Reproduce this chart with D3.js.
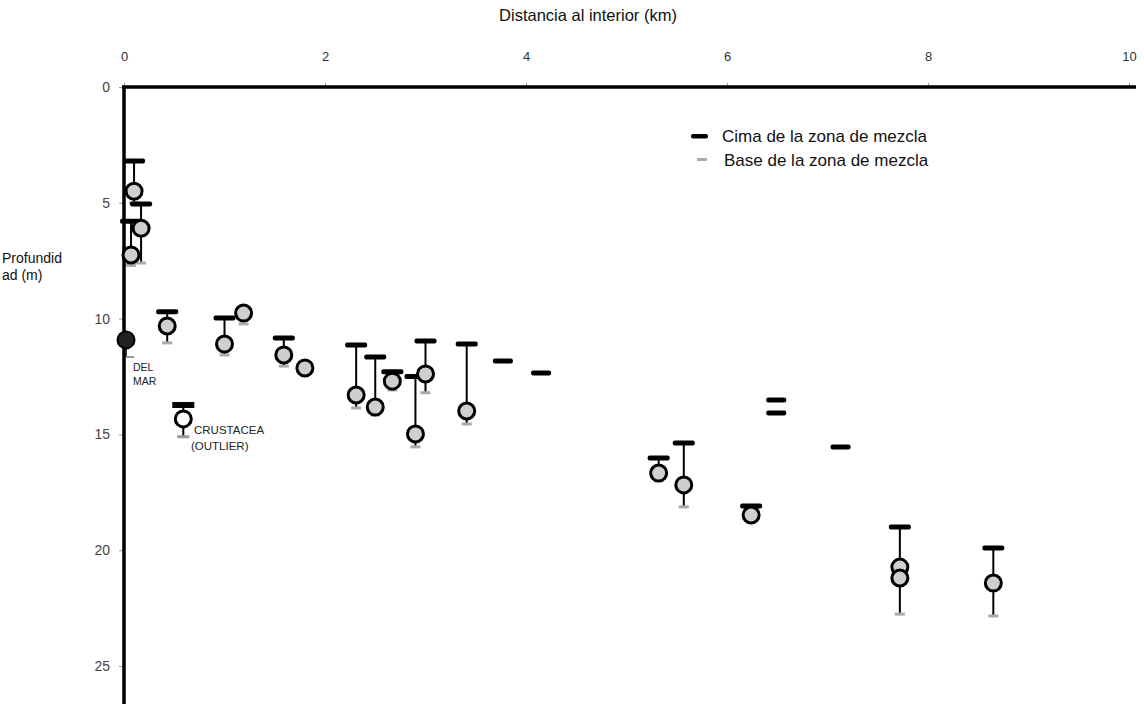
<!DOCTYPE html>
<html><head><meta charset="utf-8">
<script src="https://cdn.jsdelivr.net/npm/d3@7"></script>
<style>body{margin:0;background:#fff}svg{display:block}text{font-family:"Liberation Sans",Arial,sans-serif}</style>
</head><body><svg id="c" width="1144" height="704"></svg>
<script>
// Stations: distance inland (km), top of mixing zone (m), base of mixing zone (m), observed depth (m)
const stationKm   = [0.10, 0.17, 0.07, 0.43, 1.00, 1.19, 1.59, 1.80, 2.31, 2.50, 2.67, 2.90, 3.00, 3.41, 5.32, 5.57, 6.24, 7.72, 7.72, 8.65];
const topDepth    = [3.2,  5.05, 5.8,  9.7,  9.97, null, 10.84, null, 11.14, 11.66, 12.3, 12.5, 10.97, 11.1, 16.02, 15.37, 18.09, 19.0, null, 19.9];
const baseDepth   = [5.0,  7.6,  7.7,  11.05, 11.57, 10.23, 12.05, null, 13.86, 14.16, 13.08, 15.54, 13.2, 14.55, 17.0, 18.13, 18.7, 22.76, null, 22.84];
const obsDepth    = [4.5,  6.1,  7.25, 10.32, 11.1, 9.76, 11.57, 12.13, 13.3, 13.82, 12.7, 14.98, 12.39, 13.99, 16.67, 17.18, 18.48, 20.73, 21.2, 21.42];
// Isolated top-of-mixing-zone marks (no observation)
const topOnlyKm    = [3.77, 4.15, 6.49, 6.49, 7.13];
const topOnlyDepth = [11.83, 12.35, 13.51, 14.08, 15.54];
// Special points
const delMar    = {km: 0.02, depth: 10.92, base: 11.66};
const crustacea = {km: 0.59, top: 13.73, depth: 14.33, base: 15.1};
const xTicks = [0, 2, 4, 6, 8, 10];
const yTicks = [0, 5, 10, 15, 20, 25];

const svg = d3.select("#c");
const x = d3.scaleLinear().domain([0, 10]).range([124, 1129]);
const y = d3.scaleLinear().domain([0, 25]).range([87, 666]);

// axes
const xa = svg.append("g").attr("transform", `translate(0,${y(0)})`)
  .call(d3.axisTop(x).tickValues(xTicks).tickSize(4).tickPadding(22));
xa.select(".domain").remove();
xa.selectAll(".tick line").attr("stroke", "#999");
xa.selectAll(".tick text").attr("font-size", 13).attr("fill", "#333");
svg.append("line").attr("x1", x(0) - 2).attr("x2", 1136).attr("y1", y(0)).attr("y2", y(0))
  .attr("stroke", "#000").attr("stroke-width", 3.5);

const ya = svg.append("g").attr("transform", `translate(${x(0)},0)`)
  .call(d3.axisLeft(y).tickValues(yTicks).tickSize(5).tickPadding(9));
ya.select(".domain").remove();
ya.selectAll(".tick line").attr("stroke", "#999");
ya.selectAll(".tick text").attr("font-size", 14).attr("fill", "#444");
svg.append("line").attr("x1", x(0)).attr("x2", x(0)).attr("y1", y(0) - 1).attr("y2", 704)
  .attr("stroke", "#000").attr("stroke-width", 3.5);

svg.append("text").attr("x", 588).attr("y", 21).attr("text-anchor", "middle")
  .attr("font-size", 16.5).attr("fill", "#111").text("Distancia al interior (km)");
svg.append("text").attr("x", 2).attr("y", 263).attr("font-size", 14).attr("fill", "#111").text("Profundid");
svg.append("text").attr("x", 2).attr("y", 280).attr("font-size", 14).attr("fill", "#111").text("ad (m)");

// data
const st = stationKm.map((k, i) => ({k, t: topDepth[i], b: baseDepth[i], o: obsDepth[i]}));
const g = svg.append("g");
// vertical connectors
st.filter(d => d.t != null && d.b != null).forEach(d => {
  g.append("line").attr("x1", x(d.k)).attr("x2", x(d.k)).attr("y1", y(d.t)).attr("y2", y(d.b))
    .attr("stroke", "#000").attr("stroke-width", 2);
});
// base marks
st.filter(d => d.b != null).forEach(d => {
  g.append("rect").attr("x", x(d.k) - 5).attr("y", y(d.b) - 1.5).attr("width", 10).attr("height", 3)
    .attr("fill", "#aaa");
});
// top marks
st.filter(d => d.t != null).forEach(d => {
  g.append("rect").attr("x", x(d.k) - 11).attr("y", y(d.t) - 2.5).attr("width", 22).attr("height", 5)
    .attr("rx", 2).attr("fill", "#000");
});
topOnlyKm.forEach((k, i) => {
  g.append("rect").attr("x", x(k) - 10).attr("y", y(topOnlyDepth[i]) - 2.5).attr("width", 20).attr("height", 5)
    .attr("rx", 2).attr("fill", "#000");
});
// circles
st.forEach(d => {
  g.append("circle").attr("cx", x(d.k)).attr("cy", y(d.o)).attr("r", 8)
    .attr("fill", "#cfcfcf").attr("stroke", "#000").attr("stroke-width", 3);
});

// Del Mar
g.append("line").attr("x1", x(delMar.km)).attr("x2", x(delMar.km)).attr("y1", y(delMar.depth)).attr("y2", y(delMar.base))
  .attr("stroke", "#000").attr("stroke-width", 1.5);
g.append("rect").attr("x", x(delMar.km)).attr("y", y(delMar.base) - 1).attr("width", 8).attr("height", 2).attr("fill", "#999");
g.append("circle").attr("cx", x(delMar.km)).attr("cy", y(delMar.depth)).attr("r", 8.5)
  .attr("fill", "#222").attr("stroke", "#000").attr("stroke-width", 2);
svg.append("text").attr("x", 133).attr("y", 371).attr("font-size", 10.5).attr("fill", "#222").text("DEL");
svg.append("text").attr("x", 133).attr("y", 385).attr("font-size", 10.5).attr("fill", "#222").text("MAR");

// Crustacea
g.append("line").attr("x1", x(crustacea.km)).attr("x2", x(crustacea.km)).attr("y1", y(crustacea.top)).attr("y2", y(crustacea.base))
  .attr("stroke", "#000").attr("stroke-width", 2);
g.append("rect").attr("x", x(crustacea.km) - 6).attr("y", y(crustacea.base) - 1.5).attr("width", 12).attr("height", 3).attr("fill", "#999");
g.append("rect").attr("x", x(crustacea.km) - 11).attr("y", y(crustacea.top) - 3).attr("width", 22).attr("height", 6).attr("fill", "#000");
g.append("circle").attr("cx", x(crustacea.km)).attr("cy", y(crustacea.depth)).attr("r", 8)
  .attr("fill", "#fff").attr("stroke", "#000").attr("stroke-width", 3);
svg.append("text").attr("x", 194).attr("y", 434).attr("font-size", 11.5).attr("fill", "#222").text("CRUSTACEA");
svg.append("text").attr("x", 191).attr("y", 450).attr("font-size", 11.5).attr("fill", "#222").text("(OUTLIER)");

// legend
const lg = svg.append("g");
lg.append("rect").attr("x", 691).attr("y", 134).attr("width", 17).attr("height", 4.5).attr("rx", 2).attr("fill", "#000");
lg.append("text").attr("x", 722).attr("y", 142).attr("font-size", 17).attr("fill", "#111").text("Cima de la zona de mezcla");
lg.append("rect").attr("x", 697).attr("y", 158).attr("width", 10).attr("height", 3).attr("fill", "#aaa");
lg.append("text").attr("x", 724).attr("y", 166).attr("font-size", 17).attr("fill", "#111").text("Base de la zona de mezcla");
</script></body></html>
